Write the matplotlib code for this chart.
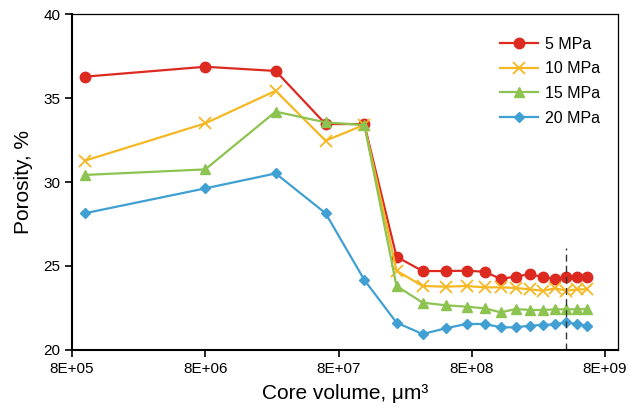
import matplotlib
matplotlib.use("Agg")
import matplotlib.pyplot as plt
from matplotlib.ticker import FixedLocator, NullLocator

plt.rcParams['font.family'] = ['Liberation Sans', 'DejaVu Sans']

core_volume = [1.0e6, 8.0e6, 2.7e7, 6.4e7, 1.25e8, 2.18e8, 3.42e8, 5.09e8, 7.31e8,
               1.0e9, 1.32e9, 1.71e9, 2.18e9, 2.75e9, 3.38e9, 4.11e9, 4.94e9, 5.87e9]
p5 = [36.27, 36.86, 36.61, 33.45, 33.45, 25.55, 24.70, 24.70, 24.72, 24.66, 24.23,
      24.37, 24.52, 24.33, 24.23, 24.37, 24.33, 24.33]
p10 = [31.27, 33.49, 35.43, 32.46, 33.40, 24.72, 23.81, 23.77, 23.81, 23.73, 23.73,
       23.69, 23.61, 23.53, 23.67, 23.53, 23.61, 23.61]
p15 = [30.42, 30.75, 34.19, 33.55, 33.39, 23.81, 22.82, 22.66, 22.58, 22.48, 22.24,
       22.44, 22.38, 22.38, 22.42, 22.42, 22.42, 22.44]
p20 = [28.14, 29.62, 30.51, 28.14, 24.17, 21.63, 20.95, 21.29, 21.55, 21.55, 21.35,
       21.35, 21.45, 21.49, 21.53, 21.65, 21.53, 21.45]
labels = ['5 MPa', '10 MPa', '15 MPa', '20 MPa']
x_ticks = [8e5, 8e6, 8e7, 8e8, 8e9]
x_tick_labels = ['8E+05', '8E+06', '8E+07', '8E+08', '8E+09']
y_ticks = [20, 25, 30, 35, 40]
cutoff_x = 4.11e9
cutoff_top = 26.1

fig = plt.figure(figsize=(6.28, 4.12), dpi=100)
ax = fig.add_axes([0.1146, 0.1505, 0.8694, 0.8155])

ax.plot(core_volume, p5, color='#DC2A20', marker='o', markersize=7.5, lw=1.6, label=labels[0])
ax.plot(core_volume, p10, color='#F5B822', marker='x', markersize=8, mew=1.3, lw=1.6, label=labels[1])
ax.plot(core_volume, p15, color='#8DC350', marker='^', markersize=7.5, lw=1.6, label=labels[2])
ax.plot(core_volume, p20, color='#41A0D3', marker='D', markersize=5.5, lw=1.6, label=labels[3])

ax.plot([cutoff_x, cutoff_x], [20, cutoff_top], color='#333333', lw=1.0, ls=(0, (5, 3)))

ax.set_xscale('log')
ax.set_xlim(8e5, 1e10)
ax.set_ylim(20, 40)
ax.xaxis.set_major_locator(FixedLocator(x_ticks))
ax.xaxis.set_minor_locator(NullLocator())
ax.set_xticklabels(x_tick_labels)
ax.set_yticks(y_ticks)
ax.tick_params(axis='both', direction='out', length=5, width=1.2, labelsize=11, colors='black')

for s in ['left', 'bottom']:
    ax.spines[s].set_linewidth(1.5)
for s in ['top', 'right']:
    ax.spines[s].set_linewidth(0.9)

ax.set_xlabel('Core volume, μm³', fontsize=15, labelpad=6)
ax.set_ylabel('Porosity, %', fontsize=15, labelpad=7)

ax.legend(loc='upper right', bbox_to_anchor=(0.993, 0.975), frameon=False, fontsize=11.5,
          handlelength=2.4, handletextpad=0.4, labelspacing=0.6)

fig.savefig('out.png', dpi=100)
